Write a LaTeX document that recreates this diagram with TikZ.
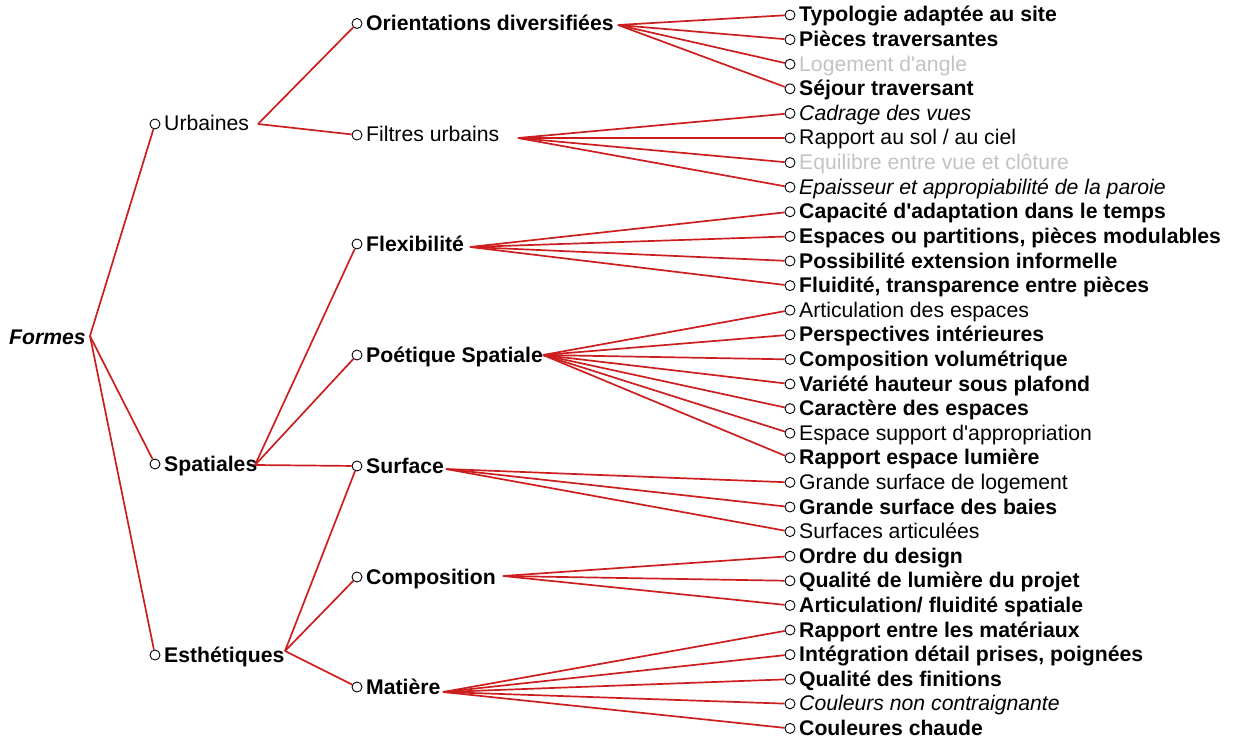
\documentclass[tikz,border=0pt]{standalone}
\usepackage{fontspec}
\setmainfont{Liberation Sans}
\definecolor{linered}{RGB}{204,30,30}
\definecolor{lightgr}{RGB}{195,195,195}
\begin{document}
\begin{tikzpicture}[x=1pt,y=-1pt,
  dot/.style={circle,draw=black,fill=white,line width=0.9pt,minimum size=10pt,inner sep=0pt},
  txt/.style={anchor=base west,inner sep=0pt,font=\fontsize{21.2}{24}\selectfont},
  lb/.style={txt,font=\fontsize{21.2}{24}\selectfont\bfseries},
  lr/.style={txt},
  li/.style={txt,font=\fontsize{21.2}{24}\selectfont\itshape},
  lg/.style={txt,text=lightgr},
  lbi/.style={txt,font=\fontsize{21.2}{24}\selectfont\bfseries\itshape},
  conn/.style={draw=linered,line width=1.7pt}]
\useasboundingbox[fill=white] (0,0) rectangle (1236,738);

% root
\node[lbi] (formes) at (9,344) {Formes};
\coordinate (formesF) at (90,336);

% level 1
\foreach \n/\y/\s/\t in {urb/124/lr/Urbaines, spa/464/lb/Spatiales, est/655/lb/{Esthétiques}}{
  \node[dot] (\n) at (155,\y) {};
  \node[\s] (\n t) at (164,\y+7) {\t};
}
\coordinate (urbF) at (258,124);
\coordinate (spaF) at (255,465);
\coordinate (estF) at (285,651);

% level 2
\foreach \n/\y/\s/\t in {ori/23.5/lb/{Orientations diversifiées}, fil/135/lr/{Filtres urbains},
  fle/244/lb/{Flexibilité}, poe/355/lb/{Poétique Spatiale}, sur/466/lb/Surface,
  com/577/lb/Composition, mat/687/lb/{Matière}}{
  \node[dot] (\n) at (357,\y) {};
  \node[\s] (\n t) at (366,\y+7) {\t};
}
\coordinate (oriF) at (618,25);
\coordinate (filF) at (518,138);
\coordinate (fleF) at (470,247);
\coordinate (poeF) at (543,355);
\coordinate (surF) at (446,469);
\coordinate (comF) at (503,576);
\coordinate (matF) at (443,692);

% leaves
\foreach \i/\s/\t in {
  1/lb/{Typologie adaptée au site},
  2/lb/{Pièces traversantes},
  3/lg/{Logement d\textquotesingle angle},
  4/lb/{Séjour traversant},
  5/li/{Cadrage des vues},
  6/lr/{Rapport au sol / au ciel},
  7/lg/{Equilibre entre vue et clôture},
  8/li/{Epaisseur et appropiabilité de la paroie},
  9/lb/{Capacité d\textquotesingle adaptation dans le temps},
  10/lb/{Espaces ou partitions, pièces modulables},
  11/lb/{Possibilité extension informelle},
  12/lb/{Fluidité, transparence entre pièces},
  13/lr/{Articulation des espaces},
  14/lb/{Perspectives intérieures},
  15/lb/{Composition volumétrique},
  16/lb/{Variété hauteur sous plafond},
  17/lb/{Caractère des espaces},
  18/lr/{Espace support d\textquotesingle appropriation},
  19/lb/{Rapport espace lumière},
  20/lr/{Grande surface de logement},
  21/lb/{Grande surface des baies},
  22/lr/{Surfaces articulées},
  23/lb/{Ordre du design},
  24/lb/{Qualité de lumière du projet},
  25/lb/{Articulation/ fluidité spatiale},
  26/lb/{Rapport entre les matériaux},
  27/lb/{Intégration détail prises, poignées},
  28/lb/{Qualité des finitions},
  29/li/{Couleurs non contraignante},
  30/lb/{Couleures chaude}}{
  \pgfmathsetmacro{\yy}{15+24.6*(\i-1)}
  \node[dot] (l\i) at (790,\yy) {};
  \node[\s] (l\i t) at (799,\yy+7) {\t};
}

% connectors
\draw[conn] (formesF) -- (urb);
\draw[conn] (formesF) -- (spa);
\draw[conn] (formesF) -- (est);
\draw[conn] (urbF) -- (ori);
\draw[conn] (urbF) -- (fil);
\draw[conn] (spaF) -- (fle);
\draw[conn] (spaF) -- (poe);
\draw[conn] (spaF) -- (sur);
\draw[conn] (estF) -- (sur);
\draw[conn] (estF) -- (com);
\draw[conn] (estF) -- (mat);
\foreach \i in {1,...,4}{\draw[conn] (oriF) -- (l\i);}
\foreach \i in {5,...,8}{\draw[conn] (filF) -- (l\i);}
\foreach \i in {9,...,12}{\draw[conn] (fleF) -- (l\i);}
\foreach \i in {13,...,19}{\draw[conn] (poeF) -- (l\i);}
\foreach \i in {20,...,22}{\draw[conn] (surF) -- (l\i);}
\foreach \i in {23,...,25}{\draw[conn] (comF) -- (l\i);}
\foreach \i in {26,...,30}{\draw[conn] (matF) -- (l\i);}
\end{tikzpicture}
\end{document}
